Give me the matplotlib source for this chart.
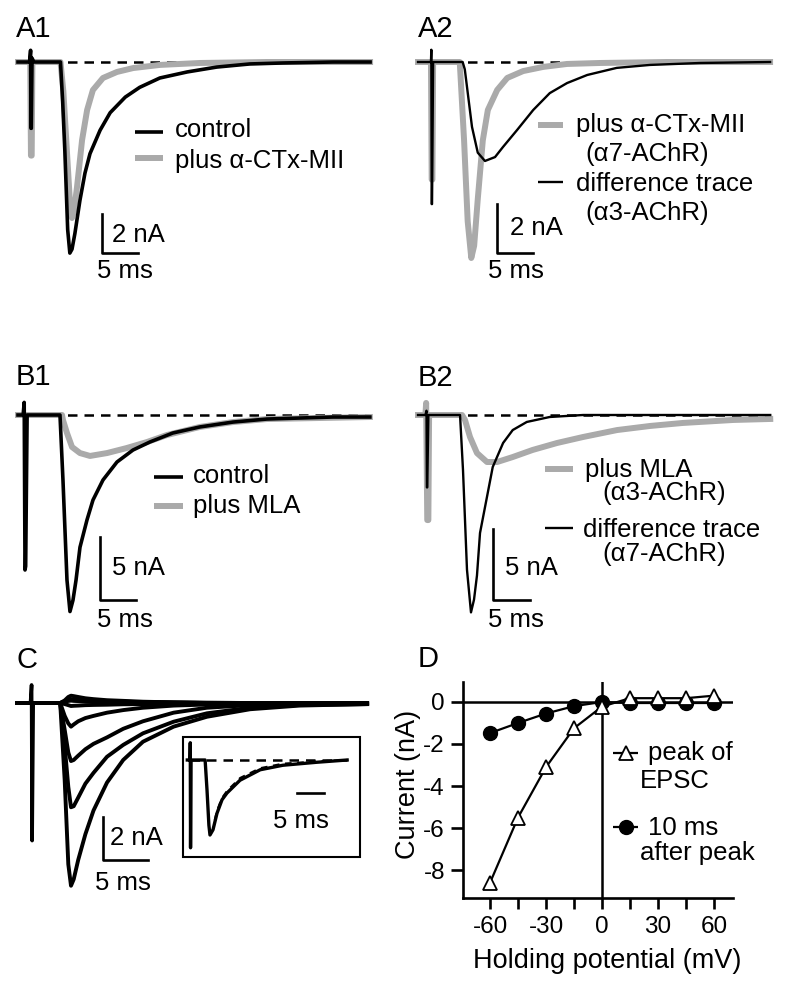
import matplotlib.pyplot as plt
from matplotlib.patches import Rectangle

W, H = 800, 989

# ---- A1: control vs plus a-CTx-MII (time in ms, current in nA) ----
a1_ctrl_t = [0, 1.6, 1.75, 1.8, 1.85, 1.95, 2.2, 5.9, 6.2, 6.5, 6.9, 7.2, 7.5, 7.9, 8.6, 9.3,
             10.0, 11.4, 12.8, 14.9, 16.9, 19.7, 23.5, 27.6, 32.2, 36.8, 43.8, 48.9]
a1_ctrl_i = [0, 0, 0.6, -3.4, -3.4, 0.2, 0, 0, -2.0, -4.5, -8.6, -9.8, -9.6, -8.8, -7.1, -5.7,
             -4.7, -3.5, -2.6, -1.8, -1.3, -0.82, -0.51, -0.26, -0.10, -0.05, 0, 0]
a1_mii_t = [0, 1.7, 1.8, 1.9, 2.0, 5.9, 6.3, 6.7, 7.2, 7.5, 7.8, 8.2, 8.9, 9.6, 10.4, 11.8,
            13.75, 16.0, 19.7, 25.3, 34.6, 48.9]
a1_mii_i = [0, 0, -4.8, -4.8, 0, 0, -1.5, -4.0, -7.1, -8.0, -7.6, -6.4, -4.0, -2.46, -1.44, -0.82,
            -0.51, -0.31, -0.15, -0.05, 0, 0]

# ---- A2: plus a-CTx-MII (a7) and difference trace (a3) ----
a2_mii_t = [0, 1.8, 1.9, 2.0, 2.1, 5.8, 6.4, 6.9, 7.4, 7.8, 8.3, 9.0, 9.7, 11.0, 12.4, 14.6,
            17.4, 20.7, 25.3, 34.6, 48.9]
a2_mii_i = [0, 0, -4.8, -4.8, 0, 0, -3.2, -6.5, -8.0, -7.5, -5.6, -3.2, -1.96, -1.14, -0.65, -0.37,
            -0.20, -0.08, -0.04, 0, 0]
a2_diff_t = [0, 1.8, 1.85, 1.9, 1.95, 2.1, 6.2, 6.5, 7.5, 8.3, 9.3, 10.7, 11.8, 13.75, 16.0,
             18.3, 20.7, 23.5, 27.6, 32.2, 39.2, 48.9]
a2_diff_i = [0, 0, 0.5, -5.8, -5.8, 0, 0, -0.3, -2.65, -3.7, -4.04, -3.88, -3.47, -2.78, -1.96,
             -1.27, -0.86, -0.53, -0.24, -0.12, -0.04, 0]

# ---- B1: control vs plus MLA ----
b1_ctrl_t = [0, 0.7, 0.85, 0.96, 1.05, 1.25, 5.75, 6.16, 6.71, 7.12, 7.53, 7.95, 8.49, 9.45,
             10.27, 11.64, 13.56, 15.75, 18.08, 21.2, 24.9, 29.45, 34.1, 38.6, 43.15, 48.2]
b1_ctrl_i = [0, 0, 1.0, -12.3, -12.0, 0, 0, -5.16, -13.1, -15.6, -14.7, -13.1, -10.5, -8.33,
             -6.75, -5.16, -3.73, -2.78, -2.14, -1.43, -0.95, -0.56, -0.32, -0.24, -0.16, -0.16]
b1_mla_t = [0, 6.03, 6.16, 6.71, 7.4, 8.49, 9.86, 12.2, 14.9, 17.7, 20.4, 24.9, 29.45, 34.1, 48.2]
b1_mla_i = [0, 0, -0.4, -1.43, -2.54, -3.02, -3.25, -3.02, -2.62, -2.14, -1.59, -0.95, -0.56,
            -0.32, -0.16]

# ---- B2: plus MLA (a3) and difference trace (a7) ----
b2_mla_t = [0, 1.0, 1.1, 1.25, 1.4, 1.5, 5.95, 6.35, 7.03, 7.97, 9.32, 10.7, 12.8, 15.5, 18.8,
            22.3, 26.9, 31.4, 35.8, 42.6, 47.6]
b2_mla_i = [0, 0, 0.85, -7.4, -7.4, 0, 0, -0.35, -1.55, -2.68, -3.31, -3.31, -2.96, -2.46, -1.97,
            -1.55, -1.06, -0.77, -0.56, -0.35, -0.28]
b2_diff_t = [0, 1.0, 1.15, 1.2, 1.25, 1.4, 5.68, 6.08, 6.62, 7.16, 7.57, 7.97, 8.38, 9.32, 10.1,
             11.5, 12.8, 14.7, 17.8, 22.3, 47.6]
b2_diff_i = [0, 0, 0.3, -5.1, -5.1, 0, 0, -3.87, -10.9, -13.9, -13.0, -11.3, -8.31, -5.77, -3.66,
             -1.97, -1.06, -0.49, -0.14, 0, 0]

# ---- C: EPSCs at holding potentials -60..+60 mV, shared time grid ----
c_t = [0, 4.8, 5.3, 5.7, 6.0, 6.3, 6.8, 7.6, 8.5, 10.0, 11.8, 14.0, 17.4, 21.1, 25.9, 31.4, 38.9]
c_m60 = [0, 0, -3.6, -7.5, -8.5, -8.2, -7.3, -6.1, -5.0, -3.7, -2.65, -1.8, -1.1, -0.64, -0.29, -0.12, -0.05]
c_m45 = [0, 0, -2.0, -3.9, -4.85, -4.8, -4.4, -3.75, -3.25, -2.5, -1.95, -1.41, -0.87, -0.48, -0.22, -0.09, -0.05]
c_m30 = [0, 0, -1.25, -2.3, -2.7, -2.65, -2.45, -2.15, -1.9, -1.6, -1.2, -0.85, -0.45, -0.22, -0.1, -0.06, -0.05]
c_m15 = [0, 0, -0.6, -0.95, -1.1, -1.0, -0.85, -0.7, -0.6, -0.45, -0.33, -0.22, -0.12, -0.07, -0.05, -0.05, -0.05]
c_0 = [0, 0, -0.05, -0.1, -0.14, -0.13, -0.12, -0.1, -0.09, -0.08, -0.06, -0.05, -0.05, -0.05, -0.05, -0.05, -0.05]
c_p15 = [0, 0, 0.05, 0.1, 0.11, 0.1, 0.09, 0.07, 0.06, 0.05, 0.04, 0.03, 0.01, 0, 0, 0, 0]
c_p30 = [0, 0, 0.06, 0.12, 0.14, 0.13, 0.11, 0.09, 0.07, 0.06, 0.05, 0.03, 0.02, 0, 0, 0, 0]
c_p45 = [0, 0, 0.07, 0.15, 0.18, 0.17, 0.15, 0.12, 0.1, 0.08, 0.06, 0.04, 0.02, 0.01, 0, 0, 0]
c_p60 = [0, 0, 0.12, 0.28, 0.34, 0.32, 0.28, 0.22, 0.18, 0.13, 0.1, 0.06, 0.03, 0.01, 0, 0, 0]
c_art_t = [1.5, 1.62, 1.68, 1.8]
c_art_i = [0, 0.84, -6.4, 0]

# inset: normalised EPSC with exponential fit (dashed)
ins_t = [-0.5, 0, 0.05, 0.1, 0.2, 2.8, 3.15, 3.5, 3.7, 4.26, 5.0, 5.93, 6.85, 9.26, 13.0, 17.2, 23.5, 29.1]
ins_i = [0, 0, 0.23, -1.17, 0, 0, -0.4, -0.87, -1.0, -0.93, -0.71, -0.53, -0.44, -0.27, -0.13, -0.07, -0.03, 0]
ins_fit_t = [4.6, 5.0, 5.9, 6.9, 9.3, 13.0, 17.2, 23.5, 29.1]
ins_fit_i = [-0.8, -0.68, -0.51, -0.41, -0.24, -0.11, -0.05, -0.02, 0.0]

# ---- D: I-V relation ----
d_v = [-60, -45, -30, -15, 0, 15, 30, 45, 60]
d_peak = [-8.6, -5.5, -3.1, -1.25, -0.22, 0.18, 0.18, 0.18, 0.3]
d_late = [-1.48, -1.0, -0.55, -0.2, 0.0, -0.05, -0.05, -0.05, -0.05]
d_xticks = [-60, -45, -30, -15, 0, 15, 30, 45, 60]
d_xticklabels = ["-60", "", "-30", "", "0", "", "30", "", "60"]
d_yticks = [0, -2, -4, -6, -8]
d_yticklabels = ["0", "-2", "-4", "-6", "-8"]

GRAY = "#aaaaaa"
FS = 18.5
plt.rcParams["font.family"] = ["Liberation Sans", "DejaVu Sans"]


def trace_axes(fig, x0, y0, px_ms, px_na):
    # full-figure transparent axes: t=0 at pixel x0, 0 nA at pixel y0
    ax = fig.add_axes([0, 0, 1, 1])
    ax.set_xlim(-x0 / px_ms, (W - x0) / px_ms)
    ax.set_ylim(-(H - y0) / px_na, y0 / px_na)
    ax.set_axis_off()
    return ax


def scale_bar(ax, t, i, dt, di):
    ax.plot([t, t, t + dt], [i + di, i, i], color="k", lw=1.9, zorder=5)


def dashed_zero(ax, t0, t1):
    ax.plot([t0, t1], [0, 0], color="k", lw=1.8, dashes=(3.8, 2.8), zorder=1)


fig = plt.figure(figsize=(W / 100, H / 100), dpi=100)

# A1
ax = trace_axes(fig, 18, 62, 7.2, 19.5)
dashed_zero(ax, 0, 48.9)
ax.plot(a1_mii_t, a1_mii_i, color=GRAY, lw=4.3, zorder=2)
ax.plot(a1_ctrl_t, a1_ctrl_i, color="k", lw=2.6, zorder=3)
scale_bar(ax, 11.7, -9.8, 5, 2)

# A2
ax = trace_axes(fig, 418, 62, 7.2, 24.5)
dashed_zero(ax, 0, 48.9)
ax.plot(a2_mii_t, a2_mii_i, color=GRAY, lw=4.3, zorder=2)
ax.plot(a2_diff_t, a2_diff_i, color="k", lw=1.7, zorder=3)
scale_bar(ax, 10.97, -7.8, 5, 2)

# B1
ax = trace_axes(fig, 18, 415, 7.3, 12.6)
dashed_zero(ax, 0, 48.2)
ax.plot(b1_mla_t, b1_mla_i, color=GRAY, lw=4.3, zorder=2)
ax.plot(b1_ctrl_t, b1_ctrl_i, color="k", lw=2.6, zorder=3)
scale_bar(ax, 11.2, -14.7, 5, 5)

# B2
ax = trace_axes(fig, 418, 415, 7.4, 14.2)
dashed_zero(ax, 0, 47.6)
ax.plot(b2_mla_t, b2_mla_i, color=GRAY, lw=4.3, zorder=2)
ax.plot(b2_diff_t, b2_diff_i, color="k", lw=1.7, zorder=3)
scale_bar(ax, 10.1, -13.0, 5, 5)

# C
ax = trace_axes(fig, 17, 703, 9.0, 21.5)
for trace in [c_p60, c_p45, c_p30, c_p15, c_0, c_m15, c_m30, c_m45, c_m60]:
    ax.plot(c_t, trace, color="k", lw=2.8, zorder=3)
ax.plot(c_art_t, c_art_i, color="k", lw=2.6, zorder=3)
scale_bar(ax, 9.56, -7.3, 5, 2)

# C inset
ax = trace_axes(fig, 190, 760, 5.4, 75)
dashed_zero(ax, 0, 29.1)
ax.plot(ins_t, ins_i, color="k", lw=2.4, zorder=3)
ax.plot(ins_fit_t, ins_fit_i, color="k", lw=1.6, dashes=(3, 2.5), zorder=4)
ax.plot([19.8, 24.8], [-0.44, -0.44], color="k", lw=1.9)

# D
axd = fig.add_axes([463 / W, 1 - 898 / H, 270 / W, 216 / H])
axd.set_xlim(-74.5, 70.2)
axd.set_ylim(-9.33, 0.95)
axd.axhline(0, color="k", lw=1.8, zorder=1)
axd.axvline(0, color="k", lw=1.8, zorder=1)
axd.plot(d_v, d_late, color="k", lw=1.6, marker="o", ms=10, zorder=3)
axd.plot(d_v, d_peak, color="k", lw=1.6, marker="^", ms=10.5, mfc="white", mec="k", mew=1.3,
         zorder=4)
for side in ["top", "right"]:
    axd.spines[side].set_visible(False)
for side in ["left", "bottom"]:
    axd.spines[side].set_linewidth(1.9)
axd.set_xticks(d_xticks)
axd.set_xticklabels(d_xticklabels)
axd.set_yticks(d_yticks)
axd.set_yticklabels(d_yticklabels)
axd.tick_params(axis="x", length=8, width=1.9, pad=5, labelsize=17.5)
axd.tick_params(axis="y", length=9, width=1.9, pad=4, labelsize=17.5)
axd.patch.set_alpha(0)

# overlay in pixel coordinates for labels and legends
ov = fig.add_axes([0, 0, 1, 1])
ov.set_xlim(0, W)
ov.set_ylim(H, 0)
ov.set_axis_off()
ov.patch.set_alpha(0)


def txt(x, y, s, size=FS, **kw):
    ov.text(x, y, s, fontsize=size, va="baseline", ha=kw.pop("ha", "left"), **kw)


def sample(x0, x1, y, color, lw):
    ov.plot([x0, x1], [y, y], color=color, lw=lw, solid_capstyle="butt")


for lab, x, y in [("A1", 16, 37), ("A2", 418, 37), ("B1", 16, 385), ("B2", 418, 386),
                  ("C", 16, 668), ("D", 418, 667)]:
    txt(x, y, lab, size=21)

# A1 legend + scale labels
sample(135, 163, 132, "k", 2.6)
txt(175, 137, "control")
sample(135, 163, 158, GRAY, 4.3)
txt(175, 168, "plus α-CTx-MII")
txt(112, 242, "2 nA")
txt(97, 278, "5 ms")

# A2
sample(538, 563, 125, GRAY, 4.3)
txt(576, 132, "plus α-CTx-MII")
txt(585, 161, "(α7-AChR)")
sample(538, 563, 182, "k", 1.7)
txt(576, 191, "difference trace")
txt(585, 220, "(α3-AChR)")
txt(510, 235, "2 nA")
txt(488, 278, "5 ms")

# B1
sample(154, 183, 477, "k", 2.6)
txt(193, 483, "control")
sample(154, 183, 506, GRAY, 4.3)
txt(193, 513, "plus MLA")
txt(112, 575, "5 nA")
txt(97, 627, "5 ms")

# B2
sample(545, 573, 469, GRAY, 4.3)
txt(585, 477, "plus MLA")
txt(602, 500, "(α3-AChR)")
sample(545, 573, 528, "k", 1.7)
txt(583, 537, "difference trace")
txt(602, 561, "(α7-AChR)")
txt(505, 575, "5 nA")
txt(488, 627, "5 ms")

# C
txt(110, 845, "2 nA")
txt(95, 890, "5 ms")
ov.add_patch(Rectangle((183, 737), 177, 120, fill=False, ec="k", lw=1.5))
txt(273, 828, "5 ms")

# D legend and axis labels
sample(613, 638, 753, "k", 1.6)
ov.plot([625.5], [753], marker="^", ms=10.5, mfc="white", mec="k", mew=1.3)
txt(648, 760, "peak of")
txt(640, 788, "EPSC")
sample(613, 638, 827, "k", 1.6)
ov.plot([625.5], [827], marker="o", ms=10, color="k")
txt(648, 835, "10 ms")
txt(640, 860, "after peak")
ov.text(408, 784, "Current (nA)", fontsize=19.5, rotation=90, ha="center", va="center")
txt(607, 968, "Holding potential (mV)", size=19.5, ha="center")

fig.savefig("out.png", dpi=100)
